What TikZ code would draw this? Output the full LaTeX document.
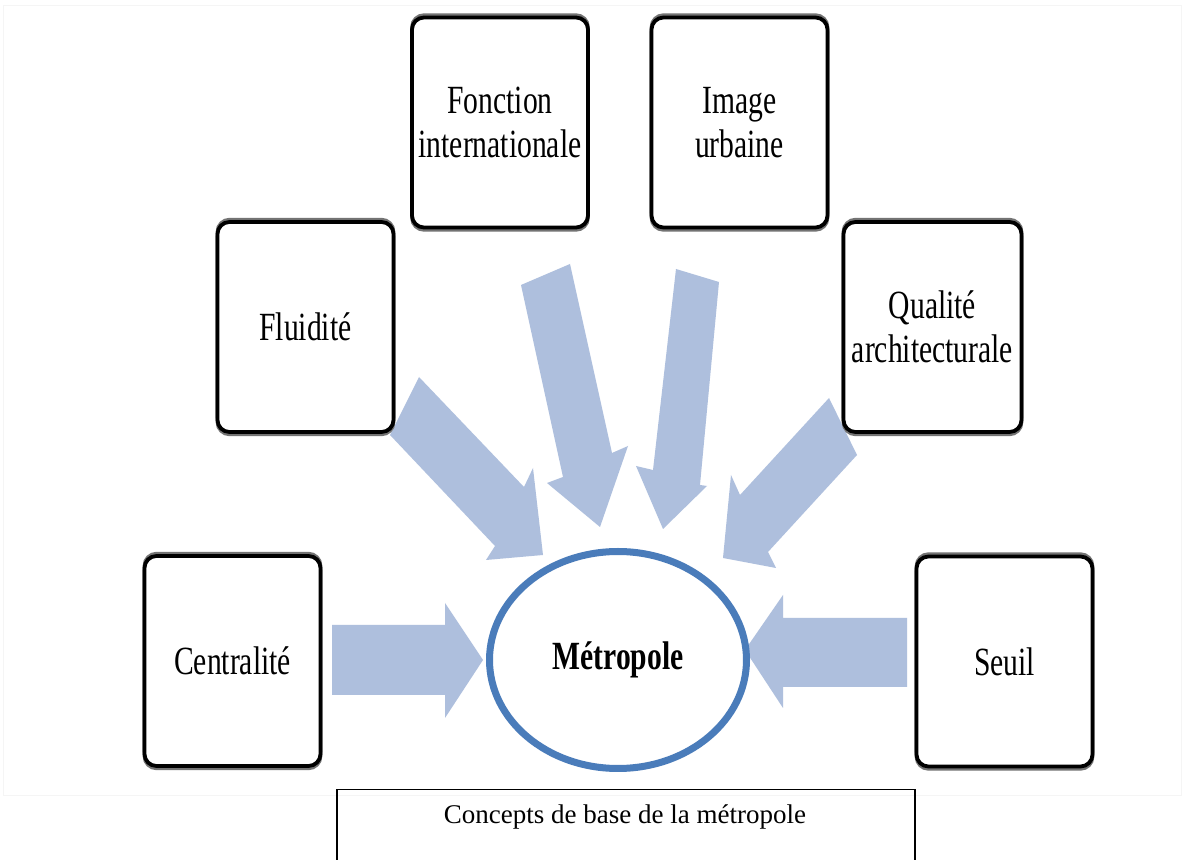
\documentclass[tikz,border=0pt]{standalone}
\usepackage{fontspec}
\usetikzlibrary{shapes.geometric}
\setmainfont{Liberation Serif}
\newfontfamily\cond[FakeStretch=0.74]{Liberation Serif}
\definecolor{arrowc}{RGB}{174,191,221}
\definecolor{ellc}{RGB}{74,124,186}
\begin{document}
\begin{tikzpicture}[x=0.5pt,y=-0.5pt,
  conceptbox/.style={draw=black, line width=1.9pt, rounded corners=6pt, fill=white,
    minimum width=88pt, minimum height=105pt, inner sep=0pt, align=center,
    font=\cond\fontsize{20}{22}\selectfont,
    preaction={draw=black!55, line width=1.8pt, transform canvas={yshift=1.2pt}},
    preaction={draw=black!55, line width=1.8pt, transform canvas={yshift=-1.2pt}}},
  blockarrow/.style={fill=arrowc},
  faint/.style={draw=black!4, line width=0.4pt}]
\clip (0,0) rectangle (1184,860);
\useasboundingbox (0,0) rectangle (1184,860);
\fill[white] (0,0) rectangle (1184,860);
\draw[faint] (3,5) rectangle (1181,795);

% block arrows
\fill[blockarrow] (332,625) -- (445,625) -- (445,603) -- (483,660) -- (445,718) -- (445,695) -- (332,695) -- cycle;
\fill[blockarrow] (907,618) -- (783,618) -- (783,595) -- (745,650) -- (783,708) -- (783,687) -- (907,687) -- cycle;
\fill[blockarrow] (419,377) -- (524,487) -- (533,468) -- (543,555) -- (486,560) -- (495,546) -- (390,435) -- cycle;
\fill[blockarrow] (521,285) -- (570,264) -- (612,453) -- (628,446) -- (600,527) -- (547,483) -- (563,477) -- cycle;
\fill[blockarrow] (676,269) -- (719,282) -- (700,485) -- (707,486) -- (663,529) -- (636,466) -- (653,470) -- cycle;
\fill[blockarrow] (829,398) -- (857,455) -- (768,552) -- (776,568) -- (723,558) -- (731,475) -- (740,495) -- cycle;

% concept boxes
\node[conceptbox] (fonc) at (500,122.5) {Fonction\\internationale};
\node[conceptbox] (img) at (739.5,122.5) {Image\\urbaine};
\node[conceptbox] (flu) at (305.5,327) {Fluidité};
\node[conceptbox, minimum width=89pt] (qual) at (932.5,327) {Qualité\\architecturale};
\node[conceptbox] (cent) at (232.5,661) {Centralité};
\node[conceptbox] (seuil) at (1004.5,661.5) {Seuil};

% central ellipse
\node[ellipse, draw=ellc, line width=3.5pt, fill=white, minimum width=128.5pt,
  minimum height=108.5pt, inner sep=0pt, font=\cond\fontsize{20}{22}\selectfont\bfseries]
  (metro) at (618,660) {Métropole};

% caption
\draw[line width=0.8pt] (337,900) -- (337,789.5) -- (915,789.5) -- (915,900);
\node[anchor=base, font=\fontsize{13.5}{16}\selectfont, inner sep=0pt] (cap) at (625,823) {Concepts de base de la métropole};
\end{tikzpicture}
\end{document}
